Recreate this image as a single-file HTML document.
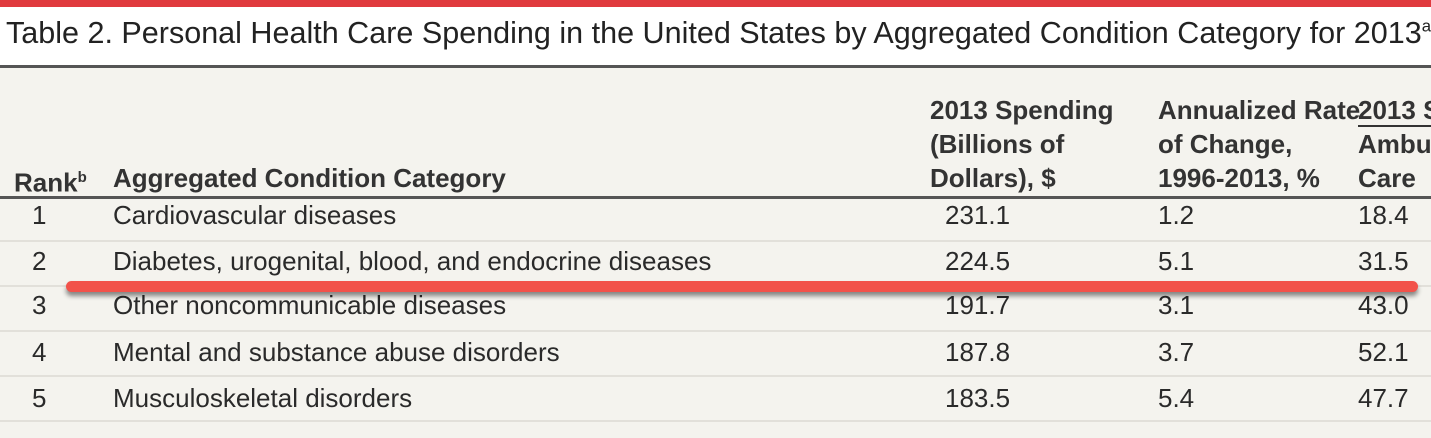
<!DOCTYPE html>
<html><head><meta charset="utf-8">
<style>
html,body{margin:0;width:1431px;height:438px;overflow:hidden}
body{background:#f4f3ee;font-family:"Liberation Sans",sans-serif;color:#2a2a2a;position:relative}
.a{position:absolute;white-space:nowrap}
.t{font-size:26px}
.h{font-size:26px;line-height:34px;font-weight:bold;color:#333}
.rl{position:absolute;left:0;width:1431px;height:2px;background:#e2e0da}
.row{position:absolute;left:0;width:1431px;height:30px;overflow:hidden}
</style></head><body>
<div class="a" style="left:0;top:0;width:1431px;height:7px;background:#e03a3e"></div>
<div class="a" style="left:0;top:7px;width:1431px;height:59px;background:#fff"></div>
<div class="a" style="left:6px;top:15px;font-size:31px;color:#222;transform:scaleX(0.985);transform-origin:left">Table 2. Personal Health Care Spending in the United States by Aggregated Condition Category for 2013<sup style="font-size:17px">a</sup></div>
<div class="a" style="left:0;top:65px;width:1431px;height:3px;background:#555"></div>
<div class="a h" style="left:14px;top:161px">Rank<sup style="font-size:15px">b</sup></div>
<div class="a h" style="left:113px;top:161px">Aggregated Condition Category</div>
<div class="a h" style="left:930px;top:93px">2013 Spending<br>(Billions of<br>Dollars), $</div>
<div class="a h" style="left:1158px;top:93px">Annualized Rate<br>of Change,<br>1996-2013, %</div>
<div class="a" style="left:1358px;top:93px;width:73px;height:104px;overflow:hidden"><div class="a h" style="left:0;top:0"><span style="border-bottom:2px solid #333">2013 Spending</span><br>Ambulatory<br>Care</div></div>
<div class="a" style="left:0;top:196px;width:1431px;height:3px;background:#555"></div>
<div class="rl" style="top:240px"></div><div class="rl" style="top:285px"></div><div class="rl" style="top:330px"></div><div class="rl" style="top:375px"></div><div class="rl" style="top:420px"></div>

<div class="row t" style="top:200px"><span class="a" style="left:32px">1</span><span class="a" style="left:113px">Cardiovascular diseases</span><span class="a" style="left:945px">231.1</span><span class="a" style="left:1158px">1.2</span><span class="a" style="left:1358px">18.4</span></div>
<div class="row t" style="top:246px"><span class="a" style="left:32px">2</span><span class="a" style="left:113px">Diabetes, urogenital, blood, and endocrine diseases</span><span class="a" style="left:945px">224.5</span><span class="a" style="left:1158px">5.1</span><span class="a" style="left:1358px">31.5</span></div>
<div class="row t" style="top:290px"><span class="a" style="left:32px">3</span><span class="a" style="left:113px">Other noncommunicable diseases</span><span class="a" style="left:945px">191.7</span><span class="a" style="left:1158px">3.1</span><span class="a" style="left:1358px">43.0</span></div>
<div class="row t" style="top:337px"><span class="a" style="left:32px">4</span><span class="a" style="left:113px">Mental and substance abuse disorders</span><span class="a" style="left:945px">187.8</span><span class="a" style="left:1158px">3.7</span><span class="a" style="left:1358px">52.1</span></div>
<div class="row t" style="top:383px"><span class="a" style="left:32px">5</span><span class="a" style="left:113px">Musculoskeletal disorders</span><span class="a" style="left:945px">183.5</span><span class="a" style="left:1158px">5.4</span><span class="a" style="left:1358px">47.7</span></div>
<div class="a" style="left:66px;top:281px;width:1352px;height:11px;border-radius:6px;background:#f2524a;box-shadow:0 4px 5px rgba(0,0,0,0.45)"></div>
</body></html>
